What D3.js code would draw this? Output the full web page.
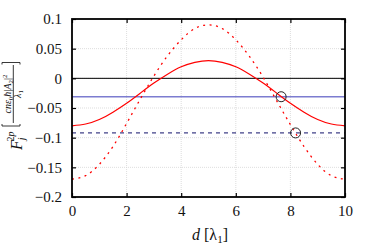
<!DOCTYPE html>
<html>
<head>
<meta charset="utf-8">
<script src="https://cdn.jsdelivr.net/npm/d3@7"></script>
<style>
body{margin:0;background:#fff;}
svg text{font-family:"Liberation Serif","DejaVu Serif",serif !important;}
</style>
</head>
<body>
<svg class="plot" width="374" height="249"></svg>
<script>
// values
var dVals = [0,0.5,1,1.5,2,2.5,3,3.5,4,4.5,5,5.5,6,6.5,7,7.5,8,8.5,9,9.5,10];
var solidRed = [-0.080,-0.077,-0.0695,-0.057,-0.042,-0.025,-0.008,0.007,0.0195,0.027,0.030,
                0.027,0.0195,0.007,-0.008,-0.025,-0.042,-0.057,-0.0695,-0.077,-0.080];
var dottedRed = [-0.170,-0.164,-0.145,-0.115,-0.076,-0.035,0.004,0.038,0.065,0.084,0.090,
                 0.084,0.065,0.037,0.002,-0.038,-0.078,-0.115,-0.145,-0.164,-0.170];
var blueLevel = -0.031;
var dashLevel = -0.092;
var markD = [7.66, 8.19];
var markF = [-0.031, -0.092];
var xTicks = [0,2,4,6,8,10];
var yTicks = [0.1,0.05,0,-0.05,-0.1,-0.15,-0.2];

var svg = d3.select("svg.plot");
var pLeft = 72, pRight = 345, pTop = 19, pBottom = 197;
var x = d3.scaleLinear().domain([0,10]).range([pLeft,pRight]);
var y = d3.scaleLinear().domain([-0.2,0.1]).range([pBottom,pTop]);

function fmt(v){
    var s = d3.format("")(+v.toFixed(2));
    return s.replace("-", "\u2212");
}

// grid
var grid = svg.append("g").attr("class","grid");
grid.selectAll("line.gx")
    .data(xTicks.slice(1,-1))
    .enter().append("line")
    .attr("x1", function(d){return x(d)}).attr("x2", function(d){return x(d)})
    .attr("y1", pTop).attr("y2", pBottom)
    .attr("stroke","#d4d4d4").attr("stroke-width",0.8).attr("stroke-dasharray","1,1");
grid.selectAll("line.gy")
    .data(yTicks.slice(1,-1))
    .enter().append("line")
    .attr("y1", function(d){return y(d)}).attr("y2", function(d){return y(d)})
    .attr("x1", pLeft).attr("x2", pRight)
    .attr("stroke","#d4d4d4").attr("stroke-width",0.8).attr("stroke-dasharray","1,1");

// horizontal reference lines
svg.append("line")
    .attr("x1", x(0)).attr("x2", x(10)).attr("y1", y(0)).attr("y2", y(0))
    .attr("stroke","#000").attr("stroke-width",1);
svg.append("line")
    .attr("x1", x(0)).attr("x2", x(10)).attr("y1", y(blueLevel)).attr("y2", y(blueLevel))
    .attr("stroke","#7c7cd0").attr("stroke-width",1.6);
svg.append("line")
    .attr("x1", x(0)).attr("x2", x(10)).attr("y1", y(dashLevel)).attr("y2", y(dashLevel))
    .attr("stroke","#10106a").attr("stroke-width",1).attr("stroke-dasharray","4,4");

// curves
var line = d3.line()
    .x(function(d,i){return x(dVals[i])})
    .y(function(d){return y(d)})
    .curve(d3.curveNatural);
svg.append("path")
    .attr("d", line(solidRed))
    .attr("fill","none").attr("stroke","#ff0000").attr("stroke-width",1.2);
svg.append("path")
    .attr("d", line(dottedRed))
    .attr("fill","none").attr("stroke","#ff0000").attr("stroke-width",1.3)
    .attr("stroke-dasharray","2,4.5");

// circles
svg.selectAll("circle.mark")
    .data(markD)
    .enter().append("circle")
    .attr("cx", function(d){return x(d)})
    .attr("cy", function(d,i){return y(markF[i])})
    .attr("r", 5)
    .attr("fill","none").attr("stroke","#222").attr("stroke-width",1);

// axes with inward ticks
var xb = svg.append("g").attr("transform","translate(0,"+pBottom+")")
    .call(d3.axisBottom(x).tickValues(xTicks).tickSizeInner(-4).tickSizeOuter(0).tickPadding(8).tickFormat(fmt));
var xt = svg.append("g").attr("transform","translate(0,"+pTop+")")
    .call(d3.axisTop(x).tickValues(xTicks).tickSizeInner(-4).tickSizeOuter(0).tickFormat(""));
var yl = svg.append("g").attr("transform","translate("+pLeft+",0)")
    .call(d3.axisLeft(y).tickValues(yTicks).tickSizeInner(-4).tickSizeOuter(0).tickPadding(10).tickFormat(fmt));
var yr = svg.append("g").attr("transform","translate("+pRight+",0)")
    .call(d3.axisRight(y).tickValues(yTicks).tickSizeInner(-4).tickSizeOuter(0).tickFormat(""));
[xb,xt,yl,yr].forEach(function(a){
    a.attr("font-family",null);
    a.select(".domain").remove();
    a.selectAll(".tick line").attr("stroke","#000").attr("stroke-width",1.2);
    a.selectAll("text").attr("font-size",15).attr("fill","#111");
});

// frame
svg.append("rect")
    .attr("x",pLeft).attr("y",pTop).attr("width",pRight-pLeft).attr("height",pBottom-pTop)
    .attr("fill","none").attr("stroke","#000").attr("stroke-width",1.8);

// x label
var xlab = svg.append("text")
    .attr("x", 210).attr("y", 240).attr("text-anchor","middle")
    .attr("font-size",16).attr("fill","#111");
xlab.append("tspan").attr("font-style","italic").text("d");
xlab.append("tspan").text(" [\u03bb");
xlab.append("tspan").attr("font-size",11).attr("dy",3).text("1");
xlab.append("tspan").attr("dy",-3).text("]");

// y label (rotated, local x = -screenY, local y = screenX)
var yg = svg.append("g").attr("transform","rotate(-90)");
var F = yg.append("text").attr("x",-150).attr("y",22).attr("font-size",16).attr("fill","#111");
F.append("tspan").attr("font-style","italic").text("F");
F.append("tspan").attr("font-style","italic").attr("font-size",10).attr("dy",3).attr("dx",0).text("j");
F.append("tspan").attr("font-size",10).attr("dx",-4).attr("dy",-11).text("2");
F.append("tspan").attr("font-size",10).attr("font-style","italic").text("p");

// brackets
var br = yg.append("g").attr("stroke","#222").attr("stroke-width",0.9).attr("fill","none");
br.append("path").attr("d","M-124,2 L-126,2 L-126,20 L-124,20");
br.append("path").attr("d","M-64.5,2 L-62.5,2 L-62.5,20 L-64.5,20");
// fraction bar
br.append("line").attr("x1",-123).attr("x2",-65).attr("y1",13.3).attr("y2",13.3);
var num = yg.append("text").attr("x",-94).attr("y",11).attr("text-anchor","middle")
    .attr("font-size",10).attr("fill","#111");
num.append("tspan").attr("font-style","italic").text("cn\u03b5");
num.append("tspan").attr("font-size",7).attr("dy",2).text("0");
num.append("tspan").attr("dy",-2).attr("font-style","italic").text("\u0127");
num.append("tspan").text("|");
num.append("tspan").attr("font-style","italic").text("A");
num.append("tspan").attr("font-size",7).attr("dy",2).text("2");
num.append("tspan").attr("dy",-2).text("|");
num.append("tspan").attr("font-size",7).attr("dy",-4).text("2");
var den = yg.append("text").attr("x",-94).attr("y",21).attr("text-anchor","middle")
    .attr("font-size",10).attr("fill","#111");
den.append("tspan").attr("font-style","italic").text("\u03bb");
den.append("tspan").attr("font-size",7).attr("dy",2).text("1");
</script>
</body>
</html>
